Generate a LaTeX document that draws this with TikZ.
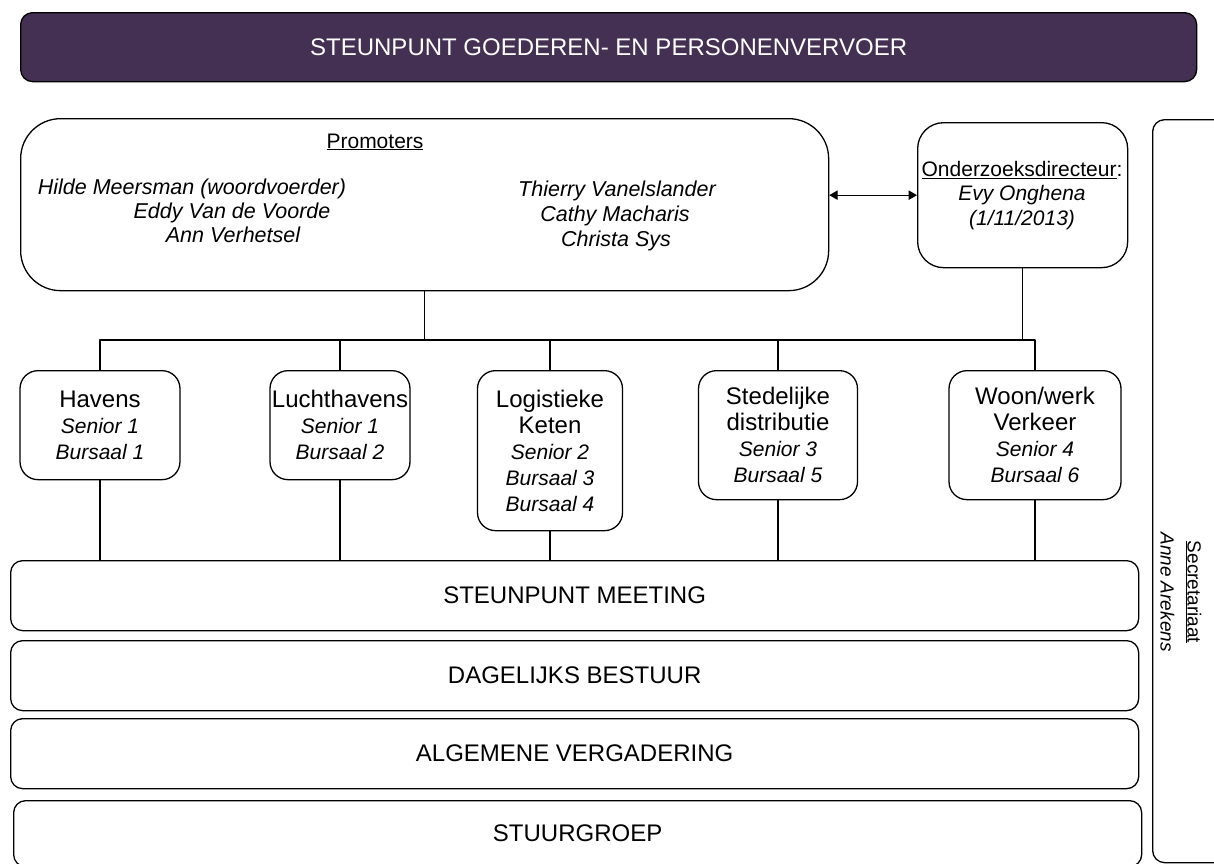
\documentclass[tikz,border=0pt]{standalone}
\usepackage{fontspec}
\setmainfont{Liberation Sans}
\usetikzlibrary{arrows}
\definecolor{steunpurple}{RGB}{67,48,82}

\begin{document}
\begin{tikzpicture}[x=1pt,y=-1pt,line cap=round,line join=round,>=triangle 60,
    orgbox/.style={draw,line width=1.3pt,rounded corners=#1,inner sep=0pt,align=center,
        font=\fontsize{21}{26}\selectfont},
    orgbox/.default=18pt,
    bar/.style={orgbox=12pt,minimum width=1128pt,minimum height=70pt,anchor=north west,
        font=\fontsize{24}{28}\selectfont},
    names/.style={anchor=base,inner sep=0pt,font=\fontsize{21.5}{24}\itshape}]
            \useasboundingbox (0,0) rectangle (1214,863);
            \clip (0,0) rectangle (1214,863);
            \node[orgbox=12pt,fill=steunpurple,text=white,minimum width=1176pt,minimum height=69pt,
                anchor=north west,font=\fontsize{24}{28}\selectfont] (kop) at (20,12) {STEUNPUNT GOEDEREN- EN PERSONENVERVOER};
            \node[orgbox=40pt,minimum width=808pt,minimum height=172pt,anchor=north west] (prom) at (20,118) {};
            \node[anchor=base,inner sep=0pt,font=\fontsize{21}{24}\selectfont] (promtitel) at (375,148) {\underline{Promoters}};
            \node[names] (meersman) at (192,194) {Hilde Meersman (woordvoerder)};
            \node[names] (vandevoorde) at (232,218) {Eddy Van de Voorde};
            \node[names] (verhetsel) at (233,242) {Ann Verhetsel};
            \node[names] (vanelslander) at (617,196) {Thierry Vanelslander};
            \node[names] (macharis) at (615,221) {Cathy Macharis};
            \node[names] (sys) at (616,246) {Christa Sys};
            \node[orgbox=26pt,minimum width=210pt,minimum height=145pt,anchor=north west] (onder) at (917,122) {};
            \node[anchor=north,inner sep=0pt,align=center,font=\fontsize{21}{24.5}\selectfont] (directeur) at (1022,161)
                {\underline{Onderzoeksdirecteur}:\\ \textit{Evy Onghena}\\ \textit{(1/11/2013)}};
            \draw [<->,line width=1.3pt] (onder.west -| prom.east) -- (onder.west);
            % onderzoekslijnen
            \node[orgbox,minimum width=160pt,minimum height=109pt,anchor=north] (havens) at (100,370)
                {{\fontsize{24}{26}\selectfont Havens}\\ \textit{Senior 1}\\ \textit{Bursaal 1}};
            \node[orgbox,minimum width=140pt,minimum height=109pt,anchor=north] (lucht) at (340,370)
                {{\fontsize{24}{26}\selectfont Luchthavens}\\ \textit{Senior 1}\\ \textit{Bursaal 2}};
            \node[orgbox,minimum width=145pt,minimum height=160pt,anchor=north] (logist) at (550,370)
                {{\fontsize{24}{30}\selectfont Logistieke}\\ {\fontsize{24}{30}\selectfont Keten}\\ \textit{Senior 2}\\ \textit{Bursaal 3}\\ \textit{Bursaal 4}};
            \node[orgbox,minimum width=159pt,minimum height=129pt,anchor=north] (sted) at (778,370)
                {{\fontsize{24}{28}\selectfont Stedelijke}\\ {\fontsize{24}{28}\selectfont distributie}\\ \textit{Senior 3}\\ \textit{Bursaal 5}};
            \node[orgbox,minimum width=172pt,minimum height=129pt,anchor=north] (woon) at (1035,370)
                {{\fontsize{24}{28}\selectfont Woon/werk}\\ {\fontsize{24}{28}\selectfont Verkeer}\\ \textit{Senior 4}\\ \textit{Bursaal 6}};
            \node[bar] (meeting) at (10,560) {STEUNPUNT MEETING};
            \node[bar] (bestuur) at (10,640) {DAGELIJKS BESTUUR};
            \node[bar] (vergadering) at (10,718) {ALGEMENE VERGADERING};
            \node[bar,minimum height=66pt] (stuurgroep) at (13,800) {STUURGROEP};
            \node[orgbox=12pt,minimum width=90pt,minimum height=743pt,anchor=north west] (secr) at (1152,119) {};
            \node[rotate=-90,align=center,inner sep=0pt,font=\fontsize{19}{27}\selectfont] (secrtekst) at (1181,592)
                {\underline{Secretariaat}\\ \textit{Anne Arekens}};
            \coordinate (bus) at (0,340);
            \draw [line width=1.3pt] (havens.north) -- (havens.north |- bus) -- (woon.north |- bus) -- (woon.north);
            \draw [line width=1.3pt] (prom.south) -- (prom.south |- bus);
            \draw [line width=1.3pt] (onder.south) -- (onder.south |- bus);
            \foreach \lijn in {lucht,logist,sted}
                \draw [line width=1.3pt] (\lijn.north) -- (\lijn.north |- bus);
            \foreach \lijn in {havens,lucht,logist,sted,woon}
                \draw [line width=1.3pt] (\lijn.south) -- (\lijn.south |- meeting.north);
\end{tikzpicture}
\end{document}
